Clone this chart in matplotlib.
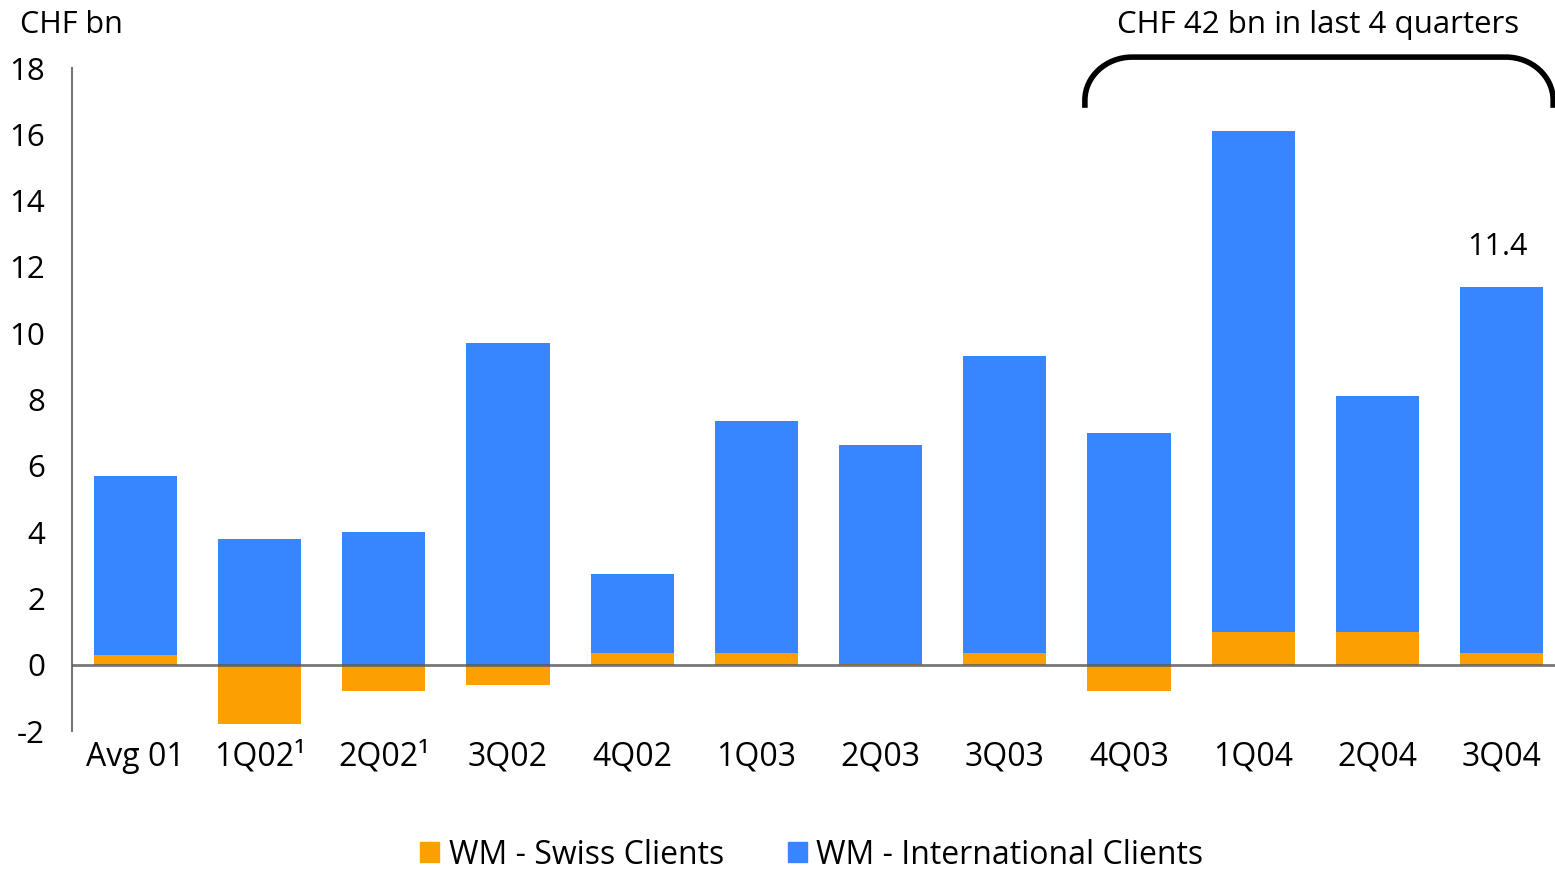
import numpy as np
import matplotlib
matplotlib.use("Agg")
import matplotlib.pyplot as plt
from matplotlib.path import Path
from matplotlib.patches import PathPatch, Patch

plt.rcParams["font.family"] = ["Open Sans", "DejaVu Sans"]

quarters = ["Avg 01", "1Q02\u00b9", "2Q02\u00b9", "3Q02", "4Q02", "1Q03", "2Q03",
            "3Q03", "4Q03", "1Q04", "2Q04", "3Q04"]
swiss = [0.3, -1.8, -0.8, -0.6, 0.35, 0.35, 0.02, 0.35, -0.8, 1.0, 1.0, 0.35]
international = [5.4, 3.8, 4.0, 9.7, 2.4, 7.0, 6.6, 8.95, 7.0, 15.1, 7.1, 11.05]
yticks = [-2, 0, 2, 4, 6, 8, 10, 12, 14, 16, 18]

orange = "#FAA000"
blue = "#3886FF"

x = np.arange(len(quarters))
swiss = np.array(swiss)
international = np.array(international)
base = np.clip(swiss, 0, None)
width = 0.67

fig = plt.figure(figsize=(15.55, 8.69), dpi=100)
ax = fig.add_axes([0.0463, 0.1588, 0.9537, 0.7629])

ax.bar(x, swiss, width, color=orange, zorder=2)
ax.bar(x, international, width, bottom=base, color=blue, zorder=2)
ax.axhline(0, color="#555555", lw=2, alpha=0.8, zorder=3)

ax.set_xlim(-0.51, 11.43)
ax.set_ylim(-2, 18)
ax.set_yticks(yticks)
ax.set_yticklabels([str(v) for v in yticks], fontsize=22.5)
ax.set_xticks(x)
ax.set_xticklabels(quarters, fontsize=23)
ax.tick_params(axis="both", length=0, pad=7)
ax.tick_params(axis="y", pad=19.5)
for s in ["top", "right", "bottom"]:
    ax.spines[s].set_visible(False)
ax.spines["left"].set_color("#777777")
ax.spines["left"].set_linewidth(1.5)

# label on last bar
total_last = swiss[-1] + international[-1]
ax.text(x[-1] - 0.03, total_last + 1.2, f"{total_last:.1f}", ha="center",
        va="center", fontsize=22)

# bracket over last four quarters
x0 = x[8] - width / 2 - 0.02
x1 = x[11] + width / 2 + 0.08
ytop, ybot = 18.33, 16.8
rx, ry = 0.38, 1.3
k = 0.45
verts = [(x0, ybot), (x0, ytop - ry),
         (x0, ytop - ry * k), (x0 + rx * k, ytop), (x0 + rx, ytop),
         (x1 - rx, ytop),
         (x1 - rx * k, ytop), (x1, ytop - ry * k), (x1, ytop - ry),
         (x1, ybot)]
codes = [Path.MOVETO, Path.LINETO,
         Path.CURVE4, Path.CURVE4, Path.CURVE4,
         Path.LINETO,
         Path.CURVE4, Path.CURVE4, Path.CURVE4,
         Path.LINETO]
ax.add_patch(PathPatch(Path(verts, codes), fill=False, lw=4, color="black",
                       clip_on=False, capstyle="butt"))

fig.text(1318 / 1555, 1 - 25 / 869, "CHF 42 bn in last 4 quarters", ha="center",
         va="center", fontsize=22.5)
fig.text(20 / 1555, 1 - 25 / 869, "CHF bn", ha="left", va="center", fontsize=22)

handles = [Patch(color=orange, label="WM - Swiss Clients"),
           Patch(color=blue, label="WM - International Clients")]
fig.legend(handles=handles, loc="center", bbox_to_anchor=(0.522, 1 - 855 / 869),
           ncol=2, frameon=False, fontsize=23, handlelength=0.6, handleheight=0.6,
           handletextpad=0.3, columnspacing=2.0)

fig.savefig("out.png", dpi=100)
